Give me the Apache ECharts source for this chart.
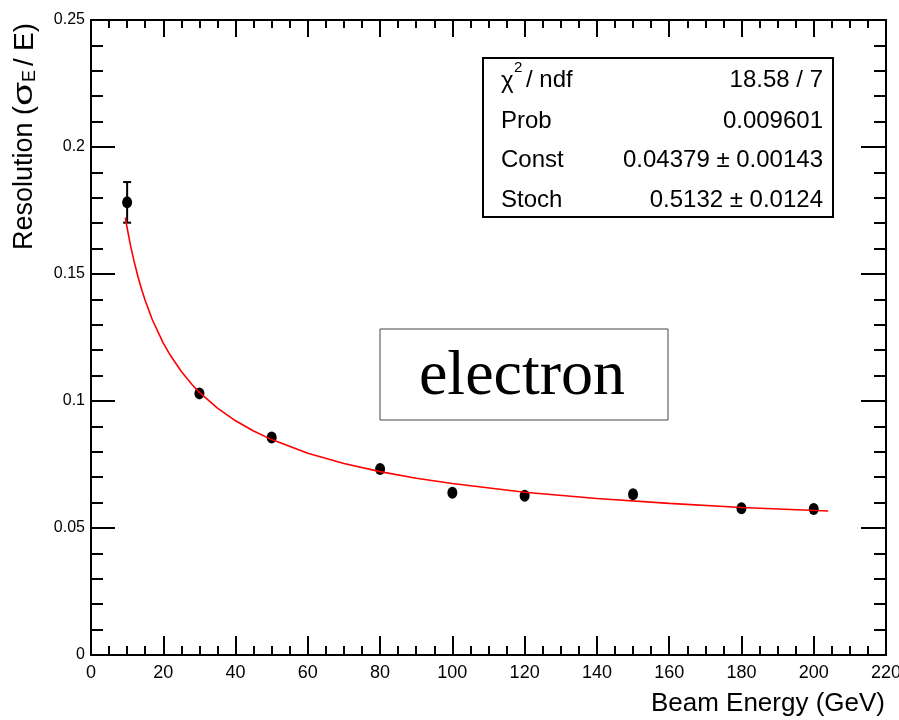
<!DOCTYPE html>
<html><head><meta charset="utf-8">
<script src="https://cdn.jsdelivr.net/npm/echarts@6/dist/echarts.min.js"></script>
<style>html,body{margin:0;padding:0;background:#fff}#c{width:899px;height:720px}</style>
</head><body><div id="c"></div>
<script>
// ---- data ----
const energies = [10, 30, 50, 80, 100, 120, 150, 180, 200];
const resolution = [0.1782, 0.1030, 0.0856, 0.0732, 0.0639, 0.0627, 0.0633, 0.0578, 0.0575];
const resolutionErr = [0.0080, 0.0015, 0.0010, 0.0010, 0.0010, 0.0010, 0.0010, 0.0010, 0.0010];
const fitEnergy = [9.5, 10, 11, 12, 13, 14, 15, 17, 20, 22, 25, 28, 30, 35, 40, 45, 50, 60, 70, 80, 90, 100, 120, 140, 160, 180, 204];
const fitValue = [0.1722, 0.1681, 0.1608, 0.1545, 0.1489, 0.1440, 0.1396, 0.1319, 0.1228, 0.1179, 0.1116, 0.1064, 0.1034, 0.0972, 0.0922, 0.0882, 0.0848, 0.0794, 0.0754, 0.0722, 0.0696, 0.0675, 0.0641, 0.0616, 0.0597, 0.0581, 0.0567];
const xTickLabels = ['0','20','40','60','80','100','120','140','160','180','200','220'];
const yTickLabels = ['0','0.05','0.1','0.15','0.2','0.25'];
const statNames = ['Prob', 'Const', 'Stoch'];
const statValues = ['18.58 / 7', '0.009601', '0.04379 \u00b1 0.00143', '0.5132 \u00b1 0.0124'];

const FONT = '"Liberation Sans", Arial, sans-serif';
const chart = echarts.init(document.getElementById('c'));

function axisX(pos, major, minor, labels) {
  return {
    type: 'value', position: pos, min: 0, max: 220, interval: 20,
    axisLine: { show: true, onZero: false, lineStyle: { color: '#000', width: 2 } },
    axisTick: { show: true, inside: true, length: major, lineStyle: { color: '#000', width: 2 } },
    minorTick: { show: true, splitNumber: 4, length: minor, lineStyle: { color: '#000', width: 2 } },
    splitLine: { show: false },
    axisLabel: labels ? { show: true, color: '#000', fontSize: 18, fontFamily: FONT, margin: 9,
      formatter: v => xTickLabels[Math.round(v / 20)] } : { show: false }
  };
}
function axisY(pos, major, minor, labels) {
  return {
    type: 'value', position: pos, min: 0, max: 0.25, interval: 0.05,
    axisLine: { show: true, onZero: false, lineStyle: { color: '#000', width: 2 } },
    axisTick: { show: true, inside: true, length: major, lineStyle: { color: '#000', width: 2 } },
    minorTick: { show: true, splitNumber: 5, length: minor, lineStyle: { color: '#000', width: 2 } },
    splitLine: { show: false },
    axisLabel: labels ? { show: true, color: '#000', fontSize: 16, fontFamily: FONT, margin: 6,
      formatter: v => yTickLabels[Math.round(v / 0.05)] } : { show: false }
  };
}

const rowY = [121, 160, 200];
const statGraphics = [
  { type: 'rect', shape: { x: 483, y: 58, width: 350, height: 159 }, style: { fill: '#fff', stroke: '#000', lineWidth: 2 }, z: 100 },
  { type: 'text', x: 501, y: 81, style: { text: '\u03c7', font: '24px ' + FONT, fill: '#000', verticalAlign: 'middle' }, z: 101 },
  { type: 'text', x: 514, y: 68, style: { text: '2', font: '15px ' + FONT, fill: '#000', verticalAlign: 'middle' }, z: 101 },
  { type: 'text', x: 526, y: 80, style: { text: '/ ndf', font: '24px ' + FONT, fill: '#000', verticalAlign: 'middle' }, z: 101 },
];
statNames.forEach((n, i) => statGraphics.push({ type: 'text', x: 501, y: rowY[i],
  style: { text: n, font: '24px ' + FONT, fill: '#000', verticalAlign: 'middle' }, z: 101 }));
[80].concat(rowY).forEach((y, i) => statGraphics.push({ type: 'text', x: 823, y: y,
  style: { text: statValues[i], font: '24px ' + FONT, fill: '#000', align: 'right', verticalAlign: 'middle' }, z: 101 }));

const option = {
  animation: false,
  backgroundColor: '#fff',
  grid: { left: 91, top: 20, right: 13, bottom: 65, containLabel: false, outerBoundsMode: 'none' },
  xAxis: [axisX('bottom', 19, 9, true), axisX('top', 17, 8, false)],
  yAxis: [axisY('left', 24, 12, true), axisY('right', 25, 12, false)],
  series: [
    {
      type: 'custom', xAxisIndex: 0, yAxisIndex: 0, z: 3,
      data: energies.map((e, i) => [e, resolution[i], resolutionErr[i]]),
      renderItem: function (params, api) {
        const x = api.value(0), y = api.value(1), e = api.value(2);
        const t = api.coord([x, y + e]), b = api.coord([x, y - e]);
        const hw = 4, st = { stroke: '#000', lineWidth: 2 };
        if (Math.abs(b[1] - t[1]) < 13) return { type: 'group', children: [] };
        return { type: 'group', children: [
          { type: 'line', shape: { x1: t[0], y1: t[1], x2: b[0], y2: b[1] }, style: st },
          { type: 'line', shape: { x1: t[0] - hw, y1: t[1], x2: t[0] + hw, y2: t[1] }, style: st },
          { type: 'line', shape: { x1: b[0] - hw, y1: b[1], x2: b[0] + hw, y2: b[1] }, style: st }
        ] };
      }
    },
    {
      type: 'scatter', z: 4, symbol: 'circle', symbolSize: [10, 12],
      itemStyle: { color: '#000', opacity: 1 },
      data: energies.map((e, i) => [e, resolution[i]])
    },
    {
      type: 'line', z: 5, showSymbol: false, smooth: false,
      lineStyle: { color: '#ff0000', width: 1.6 },
      data: fitEnergy.map((e, i) => [e, fitValue[i]])
    }
  ],
  graphic: [
    { type: 'text', x: 885, y: 704, style: { text: 'Beam Energy (GeV)', font: '26px ' + FONT, fill: '#000', align: 'right', verticalAlign: 'middle' } },
    { type: 'group', x: 25, y: 250, rotation: Math.PI / 2, children: [
      { type: 'text', x: 0, y: 0, style: { text: 'Resolution (', font: '27px ' + FONT, fill: '#000', verticalAlign: 'middle' } },
      { type: 'text', x: 144, y: 0, scaleX: 1.45, style: { text: '\u03c3', font: '27px ' + FONT, fill: '#000', verticalAlign: 'middle' } },
      { type: 'text', x: 168, y: 5, style: { text: 'E', font: '18px ' + FONT, fill: '#000', verticalAlign: 'middle' } },
      { type: 'text', x: 184, y: 0, style: { text: '/', font: '28px ' + FONT, fill: '#000', verticalAlign: 'middle' } },
      { type: 'text', x: 199, y: 0, style: { text: 'E)', font: '28px ' + FONT, fill: '#000', verticalAlign: 'middle' } }
    ] },
    { type: 'rect', shape: { x: 380, y: 329, width: 288, height: 91 }, style: { fill: '#fff', stroke: '#444', lineWidth: 1 }, z: 100 },
    { type: 'text', x: 522, y: 377, style: { text: 'electron', font: '64px "Liberation Serif", "Times New Roman", serif', fill: '#000', align: 'center', verticalAlign: 'middle' }, z: 101 }
  ].concat(statGraphics)
};
chart.setOption(option);
</script>
</body></html>
